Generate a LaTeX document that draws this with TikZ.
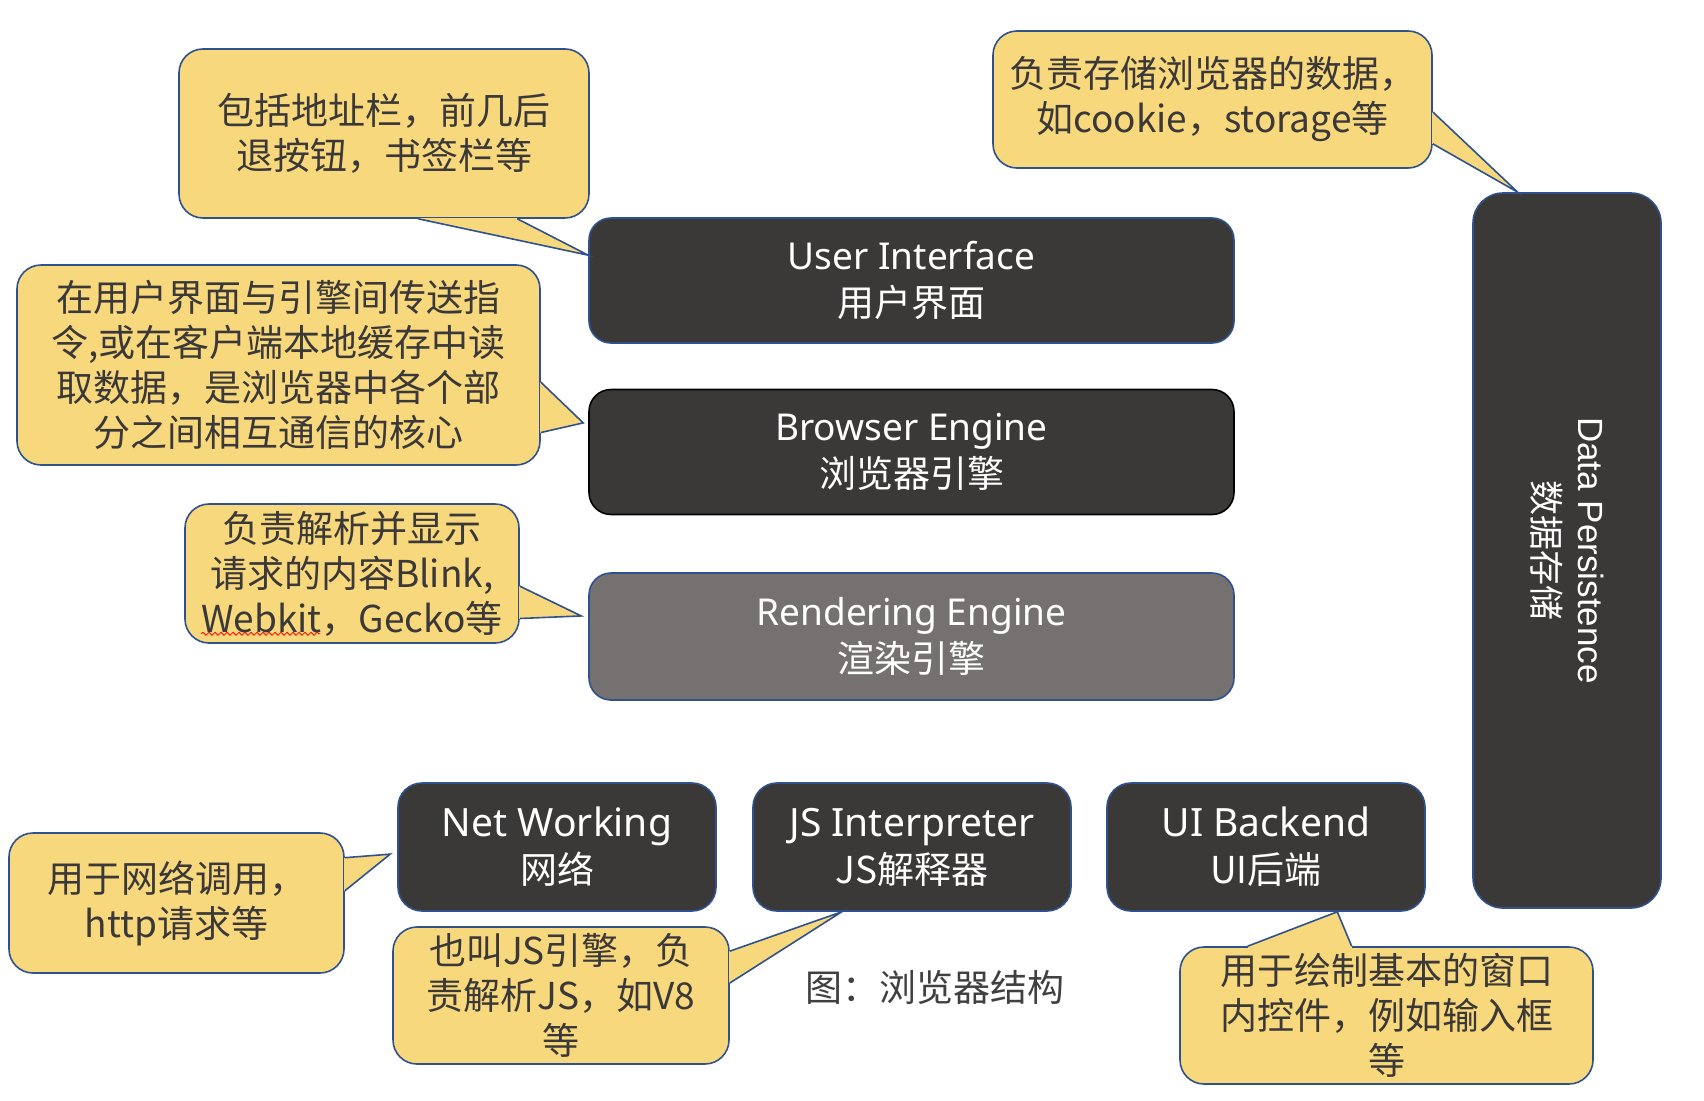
\documentclass[tikz,border=0pt]{standalone}
\usepackage{fontspec}
\setmainfont{Noto Sans CJK SC}
\newfontfamily\latinfont{Noto Sans}
\newfontfamily\dpfont{Liberation Sans}
\usetikzlibrary{calc}
\usetikzlibrary{decorations.pathmorphing}
\definecolor{boxdark}{HTML}{3B3838}
\definecolor{boxgray}{HTML}{767171}
\definecolor{bubblefill}{HTML}{F8D87C}
\definecolor{edgeblue}{HTML}{2F528F}
\definecolor{bubbletext}{HTML}{3A3838}
\definecolor{captext}{HTML}{404040}
\tikzset{
mainbox/.style={draw=edgeblue, line width=1.6pt, fill=boxdark, rounded corners=22pt, text=white, align=center, inner sep=0pt, minimum width=645pt, minimum height=125pt, font=\fontsize{37}{47}\selectfont},
lowbox/.style={mainbox, minimum width=318pt, minimum height=128pt, rounded corners=24pt, font=\fontsize{37}{47}\selectfont},
bubble/.style={draw=edgeblue, line width=1.6pt, fill=bubblefill, rounded corners=24pt, text=bubbletext, align=center, inner sep=0pt, font=\fontsize{37}{45}\selectfont}
}
\begin{document}
\begin{tikzpicture}[x=1pt,y=-1pt]
\useasboundingbox (0,0) rectangle (1704,1100);
\node[mainbox] (ui) at (911.5,280.5) {{\latinfont User Interface}\\用户界面};
\node[mainbox, draw=black] (be) at (911.5,452) {{\latinfont Browser Engine}\\浏览器引擎};
\node[mainbox, fill=boxgray, minimum height=127pt] (re) at (911.5,636.5) {{\latinfont Rendering Engine}\\渲染引擎};
\node[mainbox, rotate=-90, minimum width=715pt, minimum height=188pt, rounded corners=30pt, font=\fontsize{35}{45}\selectfont] (dp) at (1567,550.5) {{\dpfont Data Persistence}\\数据存储};
\foreach \n/\x/\a/\b in {nw/557/Net Working/网络, js/912/JS Interpreter/JS解释器, uib/1266/UI Backend/UI后端}{
\node[lowbox] (\n) at (\x,847) {{\latinfont\fontsize{39}{47}\selectfont \a}\\\b};
}
\node[bubble, minimum width=410pt, minimum height=169pt] (cUI) at (384,133.5) {包括地址栏，前几后\\退按钮，书签栏等};
\node[bubble, minimum width=523pt, minimum height=200pt] (cBE) at (278.5,365) {在用户界面与引擎间传送指\\令,或在客户端本地缓存中读\\取数据，是浏览器中各个部\\分之间相互通信的核心};
\node[bubble, minimum width=334pt, minimum height=139pt] (cRE) at (352,573.5) {负责解析并显示\\请求的内容Blink,\\Webkit，Gecko等};
\node[bubble, minimum width=439pt, minimum height=137pt] (cDP) at (1212.5,99.5) {负责存储浏览器的数据，\\如cookie，storage等};
\node[bubble, minimum width=335pt, minimum height=140pt] (cNW) at (176.5,903) {用于网络调用，\\http请求等};
\node[bubble, minimum width=336pt, minimum height=137pt] (cJS) at (561,995.5) {也叫JS引擎，负\\责解析JS，如V8\\等};
\node[bubble, minimum width=413pt, minimum height=137pt] (cUB) at (1386.5,1015.5) {用于绘制基本的窗口\\内控件，例如输入框\\等};
\node[text=captext, font=\fontsize{37}{45}\selectfont] (cap) at (935,987) {图：浏览器结构};
\coordinate (t1) at ($(ui.north west)!.3!(ui.south west)$);
\coordinate (a1) at ($(cUI.south west)!.583!(cUI.south east)$);
\coordinate (b1) at ($(cUI.south west)!.824!(cUI.south east)$);
\coordinate (t2) at ($(be.north west)!.27!(be.south west)+(-5,0)$);
\coordinate (a2) at ($(cBE.north east)!.585!(cBE.south east)$);
\coordinate (b2) at ($(cBE.north east)!.835!(cBE.south east)$);
\coordinate (t3) at ($(re.north west)!.34!(re.south west)+(-7,0)$);
\coordinate (a3) at ($(cRE.north east)!.59!(cRE.south east)$);
\coordinate (b3) at ($(cRE.north east)!.82!(cRE.south east)$);
\coordinate (t4) at ($(dp.south west)!.24!(dp.north west)$);
\coordinate (a4) at ($(cDP.north east)!.59!(cDP.south east)$);
\coordinate (b4) at ($(cDP.north east)!.82!(cDP.south east)$);
\coordinate (t5) at ($(nw.north west)!.555!(nw.south west)+(-7,0)$);
\coordinate (a5) at ($(cNW.north east)!.18!(cNW.south east)$);
\coordinate (b5) at ($(cNW.north east)!.414!(cNW.south east)$);
\coordinate (t6) at ($(js.south west)!.28!(js.south east)$);
\coordinate (a6) at ($(cJS.north east)!.18!(cJS.south east)$);
\coordinate (b6) at ($(cJS.north east)!.41!(cJS.south east)$);
\coordinate (t7) at ($(uib.south west)!.723!(uib.south east)$);
\coordinate (a7) at ($(cUB.north west)!.165!(cUB.north east)$);
\coordinate (b7) at ($(cUB.north west)!.416!(cUB.north east)$);
\foreach \i in {1,...,7}{
\fill[bubblefill] (a\i) -- (t\i) -- (b\i) -- cycle;
\draw[bubblefill, line width=2.6pt] (a\i) -- (b\i);
\draw[edgeblue, line width=1.6pt] (a\i) -- (t\i) -- (b\i);
}
\draw[red, line width=0.8pt, decorate, decoration={snake, amplitude=1.5pt, segment length=6pt}] ($(cRE.south west)+(17,-10)$) -- ++(119,0);
\end{tikzpicture}
\end{document}
